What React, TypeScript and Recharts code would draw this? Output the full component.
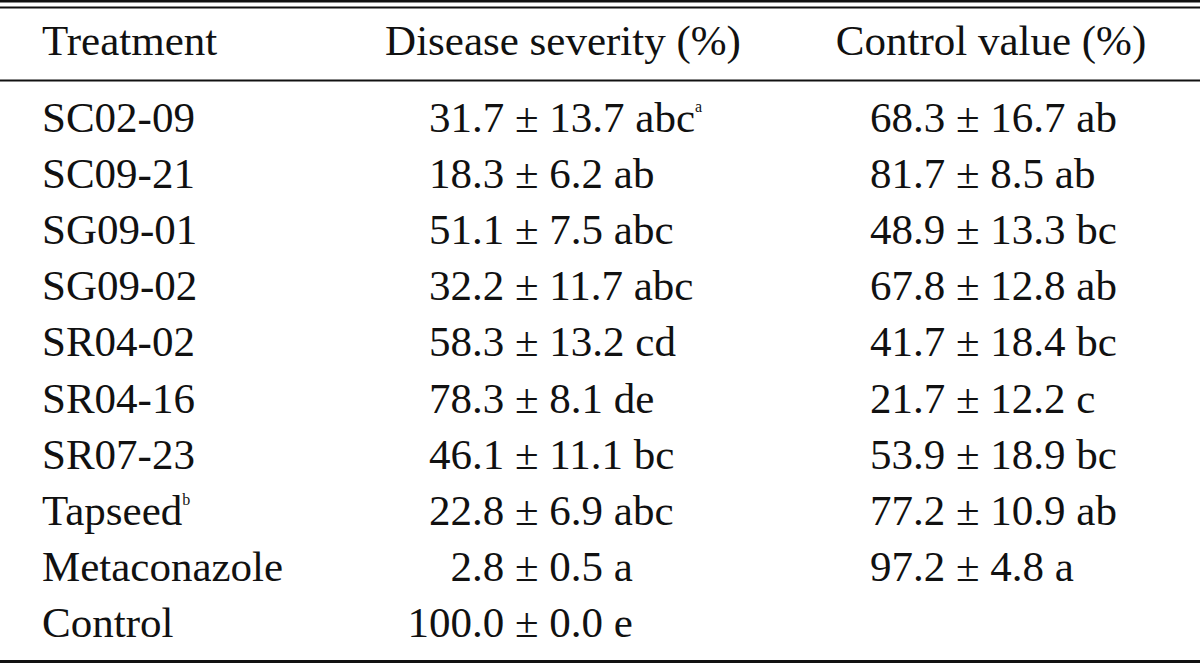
import { ScatterChart, Scatter, XAxis, YAxis, ReferenceLine } from 'recharts'

const HEADERS = ['Treatment', 'Disease severity (%)', 'Control value (%)']

const TREATMENTS = [
  'SC02-09',
  'SC09-21',
  'SG09-01',
  'SG09-02',
  'SR04-02',
  'SR04-16',
  'SR07-23',
  'Tapseed',
  'Metaconazole',
  'Control',
]
const TREATMENT_NOTES = ['', '', '', '', '', '', '', 'b', '', '']

const SEVERITY_MEAN = [31.7, 18.3, 51.1, 32.2, 58.3, 78.3, 46.1, 22.8, 2.8, 100.0]
const SEVERITY_SD = [13.7, 6.2, 7.5, 11.7, 13.2, 8.1, 11.1, 6.9, 0.5, 0.0]
const SEVERITY_GROUP = ['abc', 'ab', 'abc', 'abc', 'cd', 'de', 'bc', 'abc', 'a', 'e']
const SEVERITY_NOTES = ['a', '', '', '', '', '', '', '', '', '']

const CONTROL_MEAN = [68.3, 81.7, 48.9, 67.8, 41.7, 21.7, 53.9, 77.2, 97.2, null]
const CONTROL_SD = [16.7, 8.5, 13.3, 12.8, 18.4, 12.2, 18.9, 10.9, 4.8, null]
const CONTROL_GROUP = ['ab', 'ab', 'bc', 'ab', 'bc', 'c', 'bc', 'ab', 'a', '']

// layout
const W = 1200
const H = 663
const ROW_PX = 56.1
const FIRST_BASE = 132
const Y_MIN = -FIRST_BASE / ROW_PX
const Y_MAX = Y_MIN + H / ROW_PX
const HEADER_ROW = (55 - FIRST_BASE) / ROW_PX
const rowAt = (px: number) => (px - FIRST_BASE) / ROW_PX

const COL_NAME = 42
const COL_SEV_DOT = 472
const COL_CTRL = 870
const HEAD_X = [42, 563, 991]
const HEAD_ANCHOR = ['start', 'middle', 'middle']

const RULES = [
  { y: rowAt(1.2), w: 2.6 },
  { y: rowAt(7.4), w: 2 },
  { y: rowAt(80.5), w: 2 },
  { y: rowAt(661.5), w: 3 },
]

const FONT = '"Liberation Serif", "Times New Roman", serif'
const SIZE = 43
const INK = '#111'

const fmt = (v: number) => v.toFixed(1)

const headerData = HEADERS.map((label, i) => ({ x: HEAD_X[i], y: HEADER_ROW, label, anchor: HEAD_ANCHOR[i] }))
const nameData = TREATMENTS.map((label, i) => ({ x: COL_NAME, y: i, label, note: TREATMENT_NOTES[i] }))
const severityData = SEVERITY_MEAN.map((m, i) => ({
  x: COL_SEV_DOT,
  y: i,
  mean: m,
  sd: SEVERITY_SD[i],
  group: SEVERITY_GROUP[i],
  note: SEVERITY_NOTES[i],
}))
const controlData = CONTROL_MEAN.map((m, i) => ({
  x: COL_CTRL,
  y: i,
  mean: m,
  sd: CONTROL_SD[i],
  group: CONTROL_GROUP[i],
})).filter((d) => d.mean != null)

function Sup({ text }: { text: string }) {
  if (!text) return null
  return (
    <tspan dy={-20} fontSize={16}>
      {text}
    </tspan>
  )
}

function HeaderCell(p: any) {
  const d = p.payload
  return (
    <text x={p.cx} y={p.cy} textAnchor={d.anchor} fontFamily={FONT} fontSize={SIZE} fill={INK}>
      {d.label}
    </text>
  )
}

function NameCell(p: any) {
  const d = p.payload
  return (
    <text x={p.cx} y={p.cy} textAnchor="start" fontFamily={FONT} fontSize={SIZE} fill={INK}>
      {d.label}
      <Sup text={d.note} />
    </text>
  )
}

// decimal-aligned: integer part ends at cx, rest starts there
function SeverityCell(p: any) {
  const d = p.payload
  const [intPart, frac] = fmt(d.mean).split('.')
  return (
    <g>
      <text x={p.cx} y={p.cy} textAnchor="end" fontFamily={FONT} fontSize={SIZE} fill={INK}>
        {intPart}
      </text>
      <text x={p.cx} y={p.cy} textAnchor="start" fontFamily={FONT} fontSize={SIZE} fill={INK}>
        {`.${frac} ± ${fmt(d.sd)} ${d.group}`}
        <Sup text={d.note} />
      </text>
    </g>
  )
}

function ControlCell(p: any) {
  const d = p.payload
  return (
    <text x={p.cx} y={p.cy} textAnchor="start" fontFamily={FONT} fontSize={SIZE} fill={INK}>
      {`${fmt(d.mean)} ± ${fmt(d.sd)} ${d.group}`}
    </text>
  )
}

export default function App() {
  return (
    <div style={{ position: 'absolute', left: 0, top: 0, width: W, height: H, background: '#fff' }}>
      <ScatterChart width={W} height={H} margin={{ top: 0, right: 0, bottom: 0, left: 0 }}>
        <XAxis type="number" dataKey="x" domain={[0, W]} hide allowDataOverflow />
        <YAxis type="number" dataKey="y" domain={[Y_MIN, Y_MAX]} reversed hide allowDataOverflow />
        {RULES.map((r, i) => (
          <ReferenceLine key={i} y={r.y} stroke={INK} strokeWidth={r.w} ifOverflow="visible" />
        ))}
        <Scatter data={headerData} shape={HeaderCell} isAnimationActive={false} />
        <Scatter data={nameData} shape={NameCell} isAnimationActive={false} />
        <Scatter data={severityData} shape={SeverityCell} isAnimationActive={false} />
        <Scatter data={controlData} shape={ControlCell} isAnimationActive={false} />
      </ScatterChart>
    </div>
  )
}
